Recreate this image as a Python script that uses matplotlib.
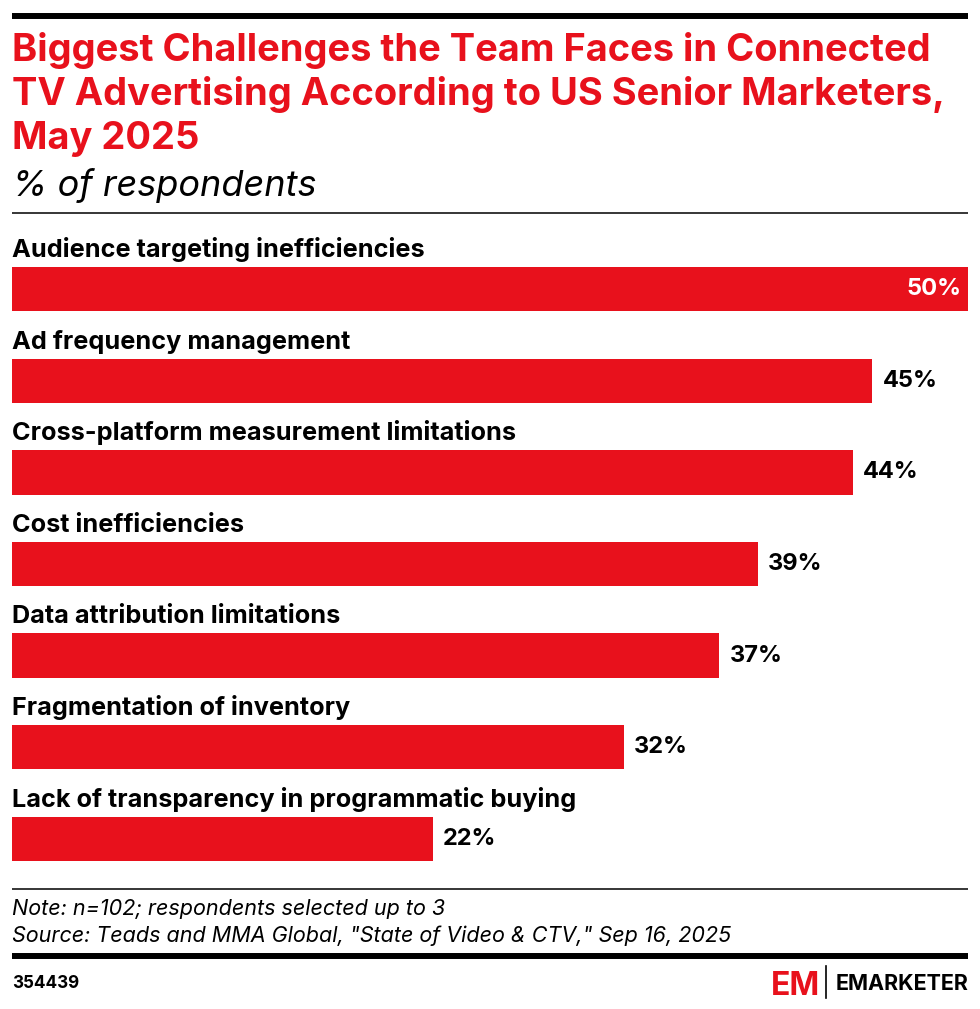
#!/usr/bin/env python3

import matplotlib
matplotlib.use('Agg')
import matplotlib.pyplot as plt
from matplotlib.lines import Line2D

categories = [
    'Audience targeting inefficiencies',
    'Ad frequency management',
    'Cross-platform measurement limitations',
    'Cost inefficiencies',
    'Data attribution limitations',
    'Fragmentation of inventory',
    'Lack of transparency in programmatic buying',
]
values = [50, 45, 44, 39, 37, 32, 22]

title_lines = [
    'Biggest Challenges the Team Faces in Connected',
    'TV Advertising According to US Senior Marketers,',
    'May 2025',
]
subtitle = '% of respondents'
note = 'Note: n=102; respondents selected up to 3'
source = 'Source: Teads and MMA Global, "State of Video & CTV," Sep 16, 2025'
chart_id = '354439'

RED = '#e8111c'
W, H = 980, 1009
FONT = 'Inter'

plt.rcParams['font.family'] = [FONT, 'DejaVu Sans']


def fx(px):
    return px / W


def fy(py):
    return 1 - py / H


def main():
    fig = plt.figure(figsize=(W / 100, H / 100), dpi=100)

    # rules
    def hline(y, lw):
        fig.add_artist(Line2D([fx(12), fx(968)], [fy(y), fy(y)], color='black',
                              linewidth=lw, solid_capstyle='butt'))
    hline(15.5, 4.3)
    hline(213, 1.1)
    hline(889, 1.1)
    hline(956, 4.3)

    # title
    for i, line in enumerate(title_lines):
        fig.text(fx(12), fy(61 + 44 * i), line, color=RED, fontsize=27.4,
                 fontweight='bold', va='baseline', ha='left')
    fig.text(fx(12), fy(196), subtitle, fontsize=26, style='italic',
             va='baseline', ha='left', color='black')

    # bars
    ax = fig.add_axes([fx(12), fy(861), fx(968) - fx(12), (861 - 267) / H])
    step = 91.8
    h = 44.5 / step
    ys = list(range(len(values)))
    ax.barh(ys, values, height=h, color=RED, edgecolor='none')
    ax.set_xlim(0, max(values))
    ax.set_ylim(len(values) - 1 + h / 2, -h / 2)
    ax.axis('off')

    for y, cat, v in zip(ys, categories, values):
        ax.text(0, y - h / 2 - 10 / step, cat, fontsize=18.2, fontweight='bold',
                va='baseline', ha='left', clip_on=False)
        if v == max(values):
            ax.annotate(f'{v}%', (v, y), xytext=(-7, 0), textcoords='offset pixels',
                        ha='right', va='center', fontsize=17, fontweight='bold',
                        color='white')
        else:
            ax.annotate(f'{v}%', (v, y), xytext=(10, 0), textcoords='offset pixels',
                        ha='left', va='center', fontsize=17, fontweight='bold',
                        color='black', annotation_clip=False)

    # notes
    fig.text(fx(12), fy(915), note, fontsize=15.5, style='italic', va='baseline')
    fig.text(fx(12), fy(942), source, fontsize=15.5, style='italic', va='baseline')
    fig.text(fx(12), fy(988), chart_id, fontsize=12.3, fontweight='bold', va='baseline')

    # logo
    fig.text(fx(771), fy(995), 'EM', color=RED, fontsize=23, fontweight='bold',
             va='baseline', ha='left')
    fig.add_artist(Line2D([fx(826), fx(826)], [fy(966), fy(998)], color='black',
                          linewidth=1.2))
    fig.text(fx(968), fy(990), 'EMARKETER', color='black', fontsize=15.5,
             fontweight='bold', va='baseline', ha='right')

    fig.savefig('out.png', dpi=100)


if __name__ == '__main__':
    main()
